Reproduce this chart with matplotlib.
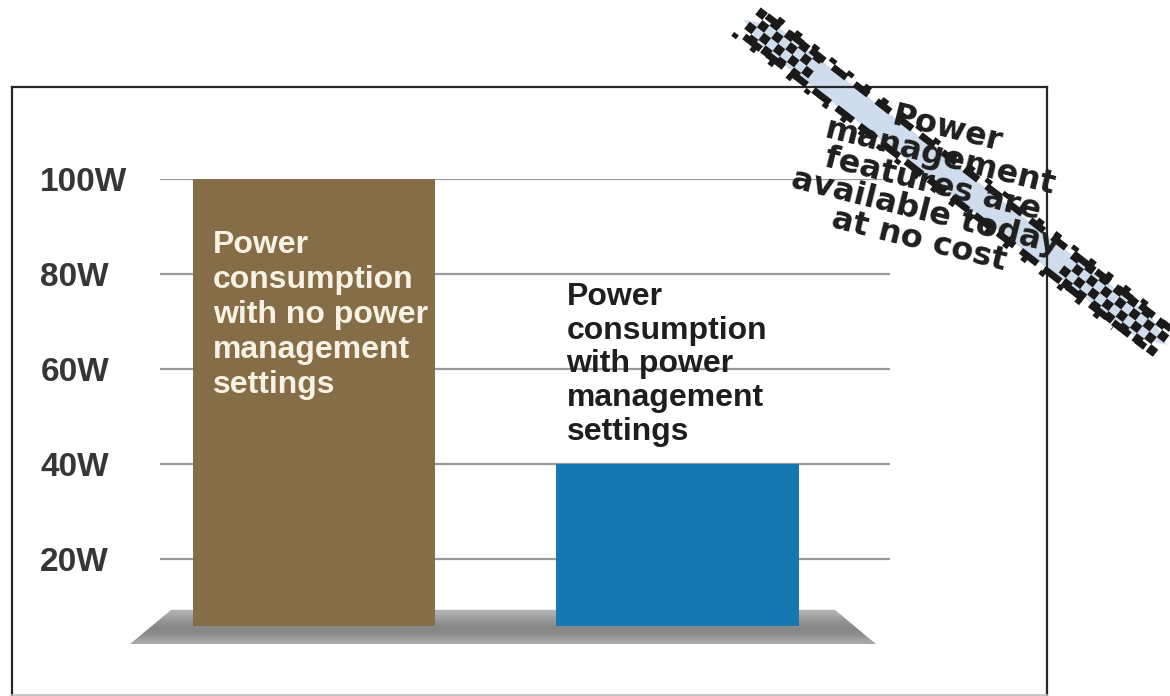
import numpy as np
import matplotlib
matplotlib.use("Agg")
import matplotlib.pyplot as plt
from matplotlib.patches import Polygon

plt.rcParams['font.family'] = ['Liberation Sans', 'DejaVu Sans']

# values in watts
categories = ['no power management', 'with power management']
power_watts = [100, 40]
bar_colors = ['#856d47', '#1777b0']
bar_texts = ['Power\nconsumption\nwith no power\nmanagement\nsettings',
             'Power\nconsumption\nwith power\nmanagement\nsettings']
text_colors = ['#f7f2e4', '#1e1e1e']
ticks = [20, 40, 60, 80, 100]
tick_labels = ['20W', '40W', '60W', '80W', '100W']
stamp_text = 'Power\nmanagement\nfeatures are\navailable today\nat no cost'

W, H = 1170, 696
fig = plt.figure(figsize=(W / 100, H / 100), dpi=100)

# main chart area: 0W sits on y=42px, 100W on y=517px (from bottom)
px_unit = 363.5
x_first = 314
ax = fig.add_axes([100 / W, 42 / H, 900 / W, 475 / H])
xlim = ((100 - x_first) / px_unit, (1000 - x_first) / px_unit)
for s in ax.spines.values():
    s.set_visible(False)
ax.set_xticks([])

# horizontal grid lines
g0 = (160 - x_first) / px_unit
g1 = (890 - x_first) / px_unit
ax.hlines(ticks, g0, g1, color='#9a9a9a', lw=1.6, zorder=1)
ax.set_yticks(ticks)
ax.set_yticklabels(tick_labels, fontsize=24, fontweight='bold', color='#363636', ha='left')
ax.tick_params(axis='y', length=0, pad=43)

# grey floor the bars stand on
xs = np.arange(len(categories))
bar_w = 0.666
base = 5.9
floor_lo, floor_hi = 2.1, 9.3
floor = Polygon([(xs[0] - 0.506, floor_lo), (xs[-1] + 0.546, floor_lo),
                 (xs[-1] + 0.433, floor_hi), (xs[0] - 0.393, floor_hi)],
                closed=True, facecolor='none', edgecolor='none')
ax.add_patch(floor)
shade = np.array([0.70, 0.62, 0.55, 0.52, 0.55, 0.66]).reshape(-1, 1)
im = ax.imshow(shade, cmap='gray', vmin=0, vmax=1, aspect='auto', origin='upper',
               extent=[xs[0] - 0.51, xs[-1] + 0.55, floor_lo, floor_hi],
               interpolation='bicubic', zorder=2)
im.set_clip_path(floor)
ax.set_xlim(*xlim)
ax.set_ylim(0, 100)

heights = [v - base for v in power_watts]
ax.bar(xs, heights, bottom=base, width=bar_w, color=bar_colors, zorder=3, clip_on=False)

# labels inside / above the bars
ax.text(xs[0] - bar_w / 2 + 0.055, 89.3, bar_texts[0], color=text_colors[0],
        fontsize=23, fontweight='bold', va='top', ha='left', linespacing=1.22, zorder=4)
ax.text(xs[1] - bar_w / 2 + 0.0275, 78.4, bar_texts[1], color=text_colors[1],
        fontsize=23, fontweight='bold', va='top', ha='left', linespacing=1.17, zorder=4)

# overlay in pixel coordinates for the frame and the stamp
ov = fig.add_axes([0, 0, 1, 1], zorder=5)
ov.set_xlim(0, W)
ov.set_ylim(H, 0)
ov.axis('off')
ov.patch.set_alpha(0)

ov.plot([12, 1047], [87, 87], color='#262626', lw=1.6)
ov.plot([12, 12], [87, 695], color='#262626', lw=1.6)
ov.plot([1047, 1047], [87, 695], color='#262626', lw=1.6)
ov.plot([12, 1047], [695, 695], color='#bdbdbd', lw=1.2)

# diagonal stamp band
p0 = np.array([745.0, 18.0])
p1 = np.array([1167.0, 345.0])
length = np.linalg.norm(p1 - p0)
u = (p1 - p0) / length
n = np.array([-u[1], u[0]])
hw = 13


def at(a, b):
    return p0 + a * u + b * n


band = Polygon([at(0, 2), at(30, hw), at(length - 30, hw), at(length, 0),
                at(length - 30, -hw), at(30, -hw)],
               closed=True, facecolor='#cfdcec', edgecolor='none', zorder=1)
ov.add_patch(band)
for off, lw, dash, start, end in [(-hw - 2, 5, (2.5, 1.5), 0.03, 1), (-hw - 7, 3.5, (1.5, 3), 0.05, 0.95),
                                  (hw + 2, 5, (3, 1.2), 0.02, 0.97), (hw + 7, 3.5, (1.2, 3.5), 0.0, 0.9)]:
    a = p0 + (p1 - p0) * start + n * off
    b = p0 + (p1 - p0) * end + n * off
    ov.plot([a[0], b[0]], [a[1], b[1]], color='#1a1a1a', lw=lw, dashes=dash,
            solid_capstyle='butt', zorder=2)

# chequered blocks at both ends of the band
sq = 9
for a0, a1 in [(6, 86), (length - 130, length - 6)]:
    for i, a in enumerate(np.arange(a0, a1, sq)):
        for j, b in enumerate(np.arange(-2 * sq, 2 * sq, sq)):
            if (i + j) % 2 == 0:
                ov.add_patch(Polygon([at(a, b), at(a + sq, b), at(a + sq, b + sq), at(a, b + sq)],
                                     closed=True, facecolor='#1a1a1a', edgecolor='none', zorder=2))

ov.text(933, 185, stamp_text, family=['DejaVu Sans'], fontweight='bold', fontsize=23,
        color='#1e1e1e', rotation=-14, rotation_mode='anchor', ha='center', va='center',
        multialignment='center', linespacing=0.9, zorder=3)

fig.savefig('out.png', dpi=100, facecolor='white')
